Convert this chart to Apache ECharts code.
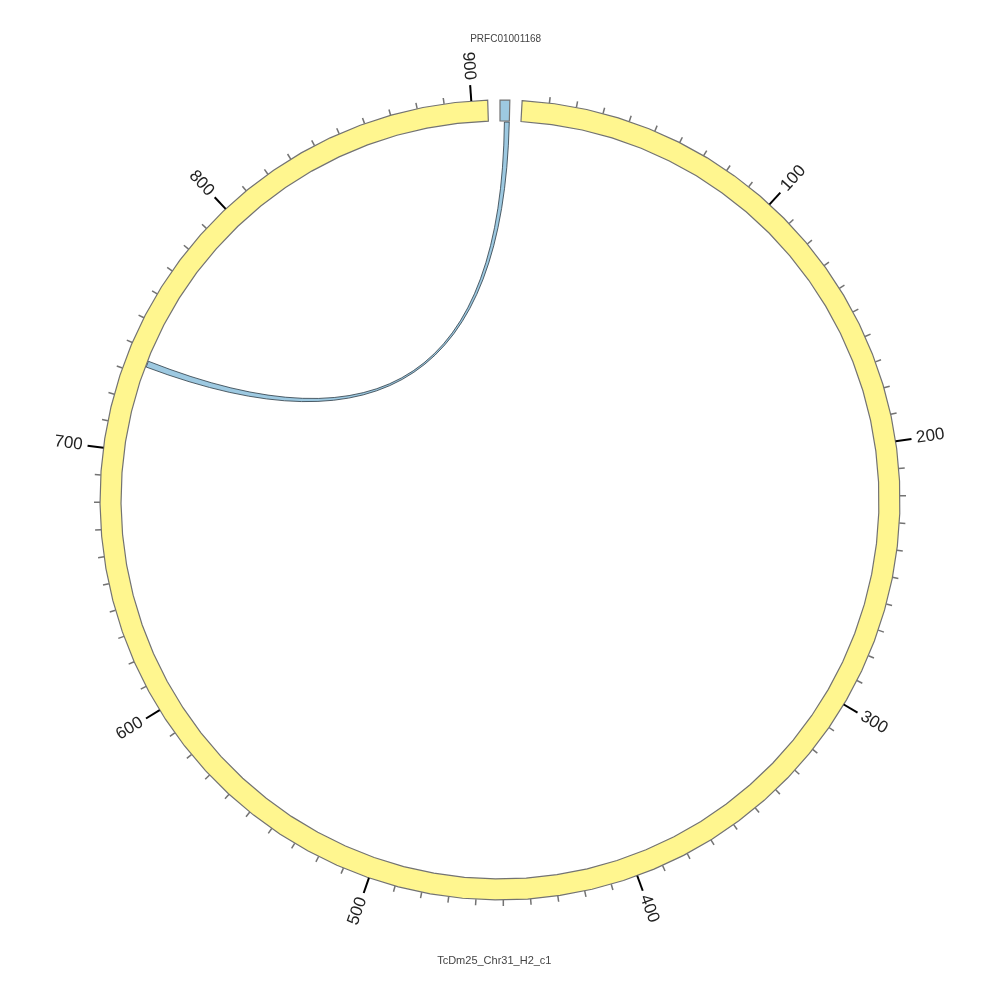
<!DOCTYPE html>
<html>
<head>
<meta charset="utf-8">
<script src="https://cdn.jsdelivr.net/npm/echarts@6/dist/echarts.min.js"></script>
<style>
	html, body {
		margin: 0;
		padding: 0;
		background: #fff;
	}
	#circos {
		width: 1000px;
		height: 1000px;
	}
</style>
</head>
<body>
<div id="circos"></div>
<script>
	// segments, clockwise from the top
	var segNames = ['PRFC01001168', 'TcDm25_Chr31_H2_c1'];
	var segLengths = [3.6, 906];
	var segColors = ['#9DC9E1', '#FFF68F'];
	var gap = 4.5;

	// scale of the long segment
	var majorTicks = [100, 200, 300, 400, 500, 600, 700, 800, 900];
	var tickLabels = ['100', '200', '300', '400', '500', '600', '700', '800', '900'];
	var minorStep = 10;

	// one link: [segment, start, end]
	var linkSource = [0, 1.7, 3.6];
	var linkTarget = [1, 733.4, 735.8];

	// layout
	var rInner = 379, rOuter = 400, rLink = 378;
	var minorLen = 6, majorLen = 16, labelGap = 21, rName = 461;
	var vertexStep = 12;

	var segStart = [];
	var total = 0;
	for (var i = 0; i < segLengths.length; i++) {
		segStart.push(total);
		total += segLengths[i] + gap;
	}

	// tick list of the long segment
	var tickData = [];
	for (var v = minorStep; v <= segLengths[1]; v += minorStep) {
		var mi = majorTicks.indexOf(v);
		tickData.push([rOuter, segStart[1] + v, mi >= 0 ? 1 : 0, mi]);
	}

	var chart = echarts.init(document.getElementById('circos'));

	function ringItem(params, api) {
		var i = api.value(2);
		var s = segStart[i], e = s + segLengths[i];
		var n = Math.max(1, Math.ceil(segLengths[i] / vertexStep));
		var outer = [], inner = [];
		for (var k = 0; k <= n; k++) {
			var a = s + (e - s) * k / n;
			outer.push(api.coord([rOuter, a]));
			inner.unshift(api.coord([rInner, a]));
		}
		return {
			type: 'polygon',
			shape: { points: outer.concat(inner) },
			style: { fill: segColors[i], stroke: '#737373', lineWidth: 1.2 }
		};
	}

	function tickItem(params, api) {
		var a = api.value(1);
		var major = api.value(2) === 1;
		var len = major ? majorLen : minorLen;
		var p0 = api.coord([rOuter, a]);
		var p1 = api.coord([rOuter + len, a]);
		var children = [{
			type: 'line',
			shape: { x1: p0[0], y1: p0[1], x2: p1[0], y2: p1[1] },
			style: { stroke: major ? '#000' : '#737373', lineWidth: major ? 2 : 1.5 }
		}];
		if (major) {
			var pt = api.coord([rOuter + labelGap, a]);
			var dx = p1[0] - p0[0], dy = p1[1] - p0[1];
			var right = dx >= 0;
			// radial text, reading outwards on the right, inwards on the left
			var rot = right ? Math.atan2(-dy, dx) : Math.atan2(dy, -dx);
			children.push({
				type: 'text',
				x: pt[0],
				y: pt[1],
				rotation: rot,
				style: {
					text: tickLabels[api.value(3)],
					align: right ? 'left' : 'right',
					verticalAlign: 'middle',
					fill: '#222',
					font: '17px "Liberation Sans", Arial, sans-serif'
				}
			});
		}
		return { type: 'group', children: children };
	}

	function linkItem(params, api) {
		var a1 = segStart[linkSource[0]] + linkSource[1];
		var a2 = segStart[linkSource[0]] + linkSource[2];
		var b1 = segStart[linkTarget[0]] + linkTarget[1];
		var b2 = segStart[linkTarget[0]] + linkTarget[2];
		var c = api.coord([0, 0]);
		var pa1 = api.coord([rLink, a1]), pa2 = api.coord([rLink, a2]);
		var pb1 = api.coord([rLink, b1]), pb2 = api.coord([rLink, b2]);
		var d = 'M' + pa1[0] + ' ' + pa1[1] +
			' L' + pa2[0] + ' ' + pa2[1] +
			' Q' + c[0] + ' ' + c[1] + ' ' + pb1[0] + ' ' + pb1[1] +
			' L' + pb2[0] + ' ' + pb2[1] +
			' Q' + c[0] + ' ' + c[1] + ' ' + pa1[0] + ' ' + pa1[1] + ' Z';
		return {
			type: 'path',
			shape: { pathData: d },
			style: { fill: '#9DC9E1', stroke: '#2b3a44', lineWidth: 0.8 }
		};
	}

	function nameItem(params, api) {
		var i = api.value(2);
		var p = api.coord([rName, segStart[i] + segLengths[i] / 2]);
		return {
			type: 'text',
			x: p[0],
			y: p[1],
			style: {
				text: segNames[i],
				align: 'center',
				verticalAlign: 'middle',
				fill: '#444',
				font: (i === 1 ? '11px' : '10px') + ' "Liberation Sans", Arial, sans-serif'
			}
		};
	}

	var segData = segNames.map(function (n, i) { return [rInner, segStart[i], i]; });

	var option = {
		animation: false,
		backgroundColor: '#fff',
		polar: { center: ['50%', '50%'], radius: 500 },
		angleAxis: {
			type: 'value', min: 0, max: total, startAngle: 90, clockwise: true, show: false
		},
		radiusAxis: { type: 'value', min: 0, max: 500, show: false },
		series: [
			{ type: 'custom', coordinateSystem: 'polar', renderItem: linkItem, data: [[rLink, 0, 0]], silent: true },
			{ type: 'custom', coordinateSystem: 'polar', renderItem: ringItem, data: segData, silent: true },
			{ type: 'custom', coordinateSystem: 'polar', renderItem: tickItem, data: tickData, silent: true },
			{ type: 'custom', coordinateSystem: 'polar', renderItem: nameItem, data: segData, silent: true }
		]
	};

	chart.setOption(option);
</script>
</body>
</html>
